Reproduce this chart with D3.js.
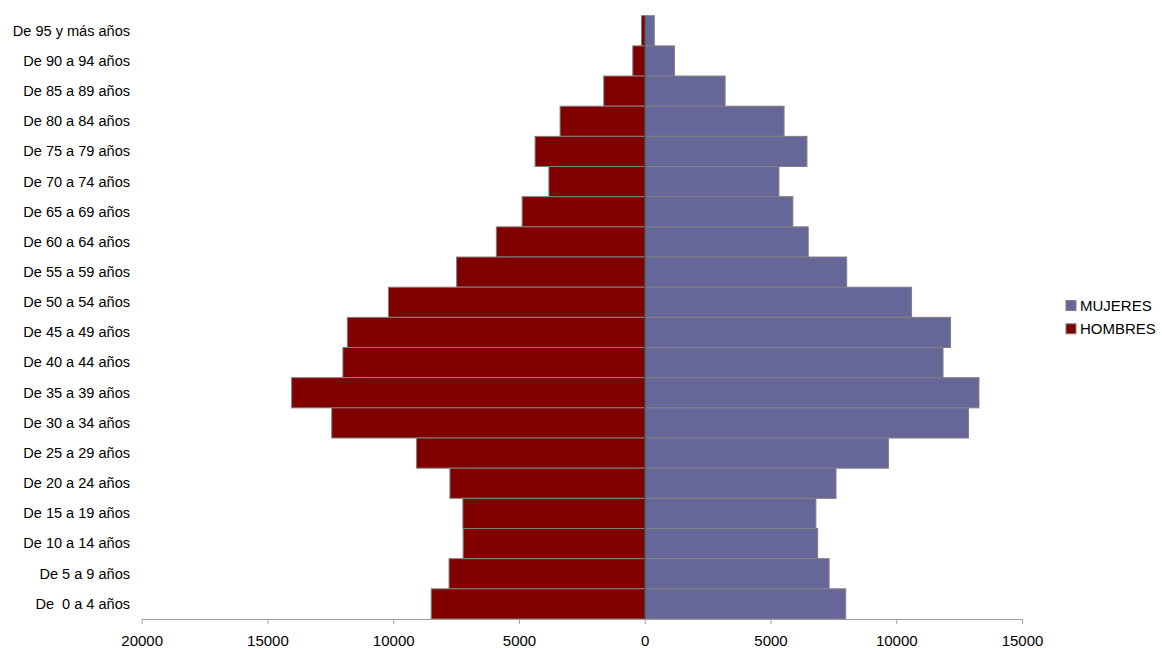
<!DOCTYPE html>
<html>
<head>
<meta charset="utf-8">
<script src="https://cdn.jsdelivr.net/npm/d3@7"></script>
<style>
  body { margin: 0; background: #fff; }
  text { font-family: "Liberation Sans", Arial, sans-serif; fill: #000; }
  .axis path, .axis line { stroke: #a0a0a0; }
</style>
</head>
<body>
<div id="graph"></div>
<script>
// age groups, oldest first (top of the pyramid)
var ageGroups = ["De 95 y más años", "De 90 a 94 años", "De 85 a 89 años", "De 80 a 84 años",
  "De 75 a 79 años", "De 70 a 74 años", "De 65 a 69 años", "De 60 a 64 años",
  "De 55 a 59 años", "De 50 a 54 años", "De 45 a 49 años", "De 40 a 44 años",
  "De 35 a 39 años", "De 30 a 34 años", "De 25 a 29 años", "De 20 a 24 años",
  "De 15 a 19 años", "De 10 a 14 años", "De 5 a 9 años", "De  0 a 4 años"];

var hombres = [130, 475, 1630, 3365, 4360, 3810, 4875, 5900, 7480, 10190,
  11825, 12000, 14040, 12445, 9075, 7745, 7230, 7220, 7780, 8490];

var mujeres = [380, 1180, 3195, 5540, 6450, 5335, 5890, 6500, 8030, 10610,
  12160, 11860, 13290, 12875, 9690, 7605, 6805, 6875, 7330, 7990];

var xTicks = [-20000, -15000, -10000, -5000, 0, 5000, 10000, 15000];

var seriesNames = ["MUJERES", "HOMBRES"];
var seriesColors = ["#666699", "#800000"];

var W = 1162, H = 648;
var m = { top: 15.7, right: 140, bottom: 29, left: 141.7 };
var w = 1022 - m.left;
var h = H - m.top - m.bottom;

var svg = d3.select("#graph").append("svg")
  .attr("width", W)
  .attr("height", H);

var graph = svg.append("g")
  .attr("transform", "translate(" + m.left + "," + m.top + ")");

var x = d3.scaleLinear().domain([-20000, 15000]).range([0, w]);
var y = d3.scaleBand().domain(ageGroups).range([0, h]).padding(0);

// male bars (left side)
graph.selectAll("rect.hombres")
  .data(hombres)
  .enter().append("rect")
  .attr("class", "hombres")
  .attr("x", function(d) { return x(-d); })
  .attr("y", function(d, i) { return y(ageGroups[i]); })
  .attr("width", function(d) { return x(0) - x(-d); })
  .attr("height", y.bandwidth())
  .attr("fill", seriesColors[1])
  .attr("stroke", "#808080")
  .attr("stroke-width", 1);

// female bars (right side)
graph.selectAll("rect.mujeres")
  .data(mujeres)
  .enter().append("rect")
  .attr("class", "mujeres")
  .attr("x", x(0))
  .attr("y", function(d, i) { return y(ageGroups[i]); })
  .attr("width", function(d) { return x(d) - x(0); })
  .attr("height", y.bandwidth())
  .attr("fill", seriesColors[0])
  .attr("stroke", "#808080")
  .attr("stroke-width", 1);

// vertical zero line
graph.append("line")
  .attr("x1", x(0)).attr("x2", x(0))
  .attr("y1", 0).attr("y2", h)
  .attr("stroke", "#404040")
  .attr("stroke-width", 1.3);

// bottom axis
var xAxis = d3.axisBottom(x)
  .tickValues(xTicks)
  .tickSize(5)
  .tickPadding(11.5)
  .tickSizeOuter(0)
  .tickFormat(function(d) { return Math.abs(d); });

var gx = graph.append("g")
  .attr("class", "x axis")
  .attr("transform", "translate(0," + h + ")")
  .call(xAxis);
gx.selectAll("text")
  .style("font-size", "15px")
  .style("font-family", "'Liberation Sans', Arial, sans-serif");

// category labels
var labelX = 130;
graph.selectAll("text.cat")
  .data(ageGroups)
  .enter().append("text")
  .attr("class", "cat")
  .attr("transform", function(d) {
    return "translate(" + (labelX - m.left) + "," + (y(d) + y.bandwidth() / 2) + ") scale(1.04,1)";
  })
  .attr("dy", "0.35em")
  .attr("text-anchor", "end")
  .attr("xml:space", "preserve")
  .style("white-space", "pre")
  .style("font-size", "14px")
  .text(function(d) { return d; });

// legend
var legend = svg.append("g")
  .attr("transform", "translate(1066,300.5)");

var items = legend.selectAll("g")
  .data(seriesNames)
  .enter().append("g")
  .attr("transform", function(d, i) { return "translate(0," + (i * 23.3) + ")"; });

items.append("rect")
  .attr("width", 10)
  .attr("height", 10)
  .attr("fill", function(d, i) { return seriesColors[i]; })
  .attr("stroke", "#808080")
  .attr("stroke-width", 1);

items.append("text")
  .attr("x", 14)
  .attr("y", 5.2)
  .attr("dy", "0.35em")
  .style("font-size", "15px")
  .text(function(d) { return d; });
</script>
</body>
</html>
